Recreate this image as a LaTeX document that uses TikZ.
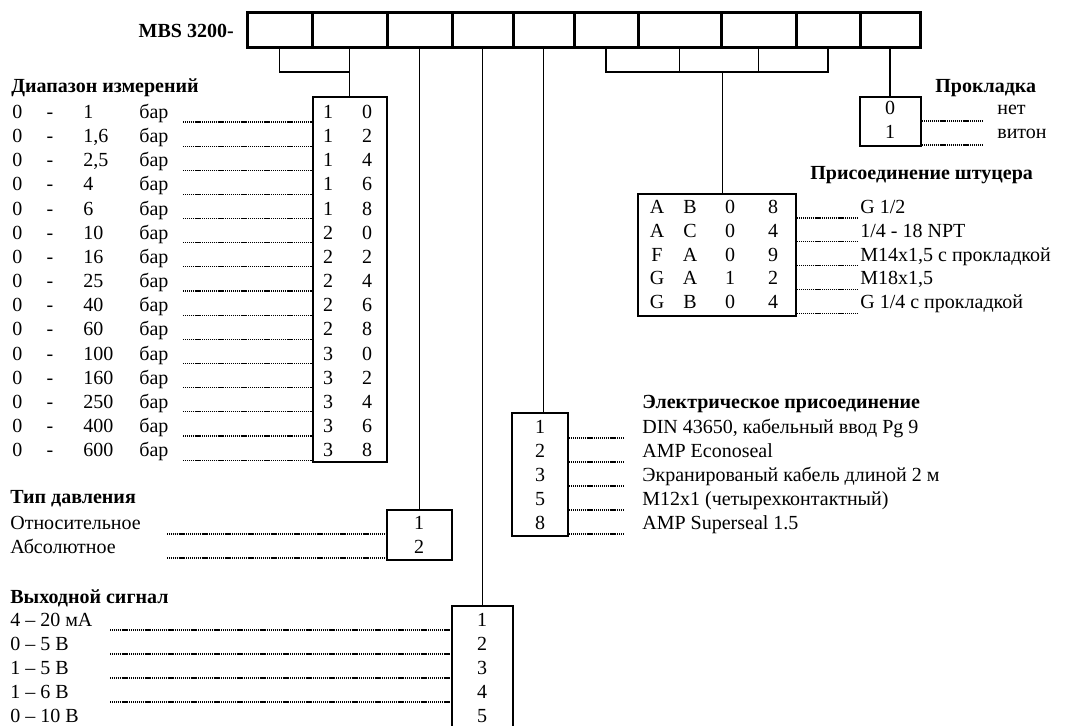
\documentclass[tikz,border=0pt]{standalone}
\usepackage{fontspec}
\setmainfont{Liberation Serif}
\usetikzlibrary{fit}
\tikzset{
  % тексты
  txt/.style={inner sep=0pt,text height=7.8pt,text depth=0pt,
              font=\fontsize{12}{14}\selectfont},
  ttl/.style={txt,font=\fontsize{12}{14}\selectfont\bfseries},
  % рамки и линии
  cell/.style={draw,line width=1.8pt,inner sep=0pt},
  codebox/.style={draw,line width=1.5pt,inner sep=0pt},
  conn/.style={draw,line width=1.1pt},
  lead/.style={draw,line width=0.7pt,dash pattern=on 0.7pt off 0.45pt},
}

\begin{document}
\begin{tikzpicture}[x=0.6pt,y=-0.6pt]
  \path[use as bounding box] (0,0) rectangle (1068,725);
  \clip (0,0) rectangle (1068,725);
  % код заказа
  \node[ttl,anchor=east] (mbs) at (234,31) {MBS 3200-};
  \node[cell,fit={(247,12) (312,47)}] (c1) {};
  \node[cell,fit={(312,12) (387,47)}] (c2) {};
  \node[cell,fit={(387,12) (452,47)}] (c3) {};
  \node[cell,fit={(452,12) (513,47)}] (c4) {};
  \node[cell,fit={(513,12) (574,47)}] (c5) {};
  \node[cell,fit={(574,12) (638,47)}] (c6) {};
  \node[cell,fit={(638,12) (721,47)}] (c7) {};
  \node[cell,fit={(721,12) (796,47)}] (c8) {};
  \node[cell,fit={(796,12) (860,47)}] (c9) {};
  \node[cell,fit={(860,12) (920,47)}] (c10) {};
  \coordinate (kb) at (0,72);

  % диапазон
  \node[ttl,anchor=west] (rtt) at (11,86) {Диапазон измерений};
  \node[codebox,fit={(313,97) (387,462)}] (rng) {};
  \foreach \v/\a/\b [count=\i from 0] in {1/1/0,{1,6}/1/2,{2,5}/1/4,4/1/6,6/1/8,
      10/2/0,16/2/2,25/2/4,40/2/6,60/2/8,100/3/0,160/3/2,250/3/4,400/3/6,600/3/8}{
    \pgfmathsetmacro\ry{112+24.15*\i}
    \node[txt,anchor=west] (rz\i) at (12,\ry) {0};
    \node[txt] (rd\i) at (50,\ry) {-};
    \node[txt,anchor=west] (rv\i) at (83,\ry) {\v};
    \node[txt,anchor=west] (ru\i) at (139,\ry) {бар};
    \node[txt] (ra\i) at (328,\ry) {\a};
    \node[txt] (rb\i) at (367,\ry) {\b};
    \coordinate (rl\i) at (183,{\ry+10});
    \draw[lead] (rl\i) -- (rl\i -| rng.west);
  }

  % тип давления
  \node[ttl,anchor=west] (ptt) at (10,497) {Тип давления};
  \node[codebox,fit={(387,510) (452,560)}] (prs) {};
  \node[txt,anchor=west] (p1) at (10,523) {Относительное};
  \node[txt,anchor=west] (p2) at (10,547) {Абсолютное};
  \node[txt] (pd1) at (419,523) {1};
  \node[txt] (pd2) at (419,547) {2};
  \coordinate (pl1) at (167,534);
  \coordinate (pl2) at (167,558);
  \draw[lead] (pl1) -- (pl1 -| prs.west);
  \draw[lead] (pl2) -- (pl2 -| prs.west);

  % выходной сигнал
  \node[ttl,anchor=west] (ott) at (10,597) {Выходной сигнал};
  \node[codebox,fit={(452,606) (513,750)}] (out) {};
  \foreach \s [count=\i from 0] in {4 – 20 мА,0 – 5 В,1 – 5 В,1 – 6 В,0 – 10 В}{
    \pgfmathsetmacro\oy{620+24*\i}
    \node[txt,anchor=west] (o\i) at (10,\oy) {\s};
    \pgfmathtruncatemacro\n{\i+1}
    \node[txt] (od\i) at (482,\oy) {\n};
  }
  \foreach \i in {0,...,3}{
    \coordinate (ol\i) at (110,{630+24*\i});
    \draw[lead] (ol\i) -- (ol\i -| out.west);
  }

  % электрическое присоединение
  \node[ttl,anchor=west] (ett) at (642,402) {Электрическое присоединение};
  \node[codebox,fit={(512,413) (568,536)}] (elbox) {};
  \foreach \d/\s [count=\i from 0] in {1/{DIN 43650, кабельный ввод Pg 9},
      2/AMP Econoseal,3/Экранированый кабель длиной 2 м,
      5/M12x1 (четырехконтактный),8/AMP Superseal 1.5}{
    \pgfmathsetmacro\ey{427+24*\i}
    \node[txt] (ed\i) at (540,\ey) {\d};
    \node[txt,anchor=west] (e\i) at (642,\ey) {\s};
    \coordinate (el\i) at (624,{\ey+11});
    \draw[lead] (elbox.east |- el\i) -- (el\i);
  }

  % присоединение штуцера
  \node[ttl,anchor=west] (ftt) at (810,173) {Присоединение штуцера};
  \node[codebox,fit={(638,194) (796,316)}] (fit) {};
  \foreach \p/\q/\r/\t [count=\i from 0] in {A/B/0/8,A/C/0/4,F/A/0/9,G/A/1/2,G/B/0/4}{
    \pgfmathsetmacro\fy{207+23.8*\i}
    \node[txt] (fp\i) at (657,\fy) {\p};
    \node[txt] (fq\i) at (690,\fy) {\q};
    \node[txt] (fr\i) at (730,\fy) {\r};
    \node[txt] (ft\i) at (773,\fy) {\t};
    \coordinate (fl\i) at (857,{\fy+11});
    \draw[lead] (fit.east |- fl\i) -- (fl\i);
  }
  \node[txt,anchor=west] (f0) at (860,207) {G 1/2};
  \node[txt,anchor=west] (f1) at (860,230.8) {1/4 - 18 NPT};
  \node[txt,anchor=west] (f2) at (860,254.6) {M14x1,5 с прокладкой};
  \node[txt,anchor=west] (f3) at (860,278.4) {M18x1,5};
  \node[txt,anchor=west] (f4) at (860,302.2) {G 1/4 с прокладкой};

  % прокладка
  \node[ttl,anchor=west] (gtt) at (935,86) {Прокладка};
  \node[codebox,fit={(860,97) (921,146)}] (gsk) {};
  \node[txt] (gd0) at (890,108) {0};
  \node[txt] (gd1) at (890,132) {1};
  \node[txt,anchor=west] (g0) at (997,108) {нет};
  \node[txt,anchor=west] (g1) at (997,132) {витон};
  \coordinate (gl0) at (982,121);
  \coordinate (gl1) at (982,145);
  \draw[lead] (gsk.east |- gl0) -- (gl0);
  \draw[lead] (gsk.east |- gl1) -- (gl1);

  % связи
  \draw[conn] (c1.south) |- (c2.south |- kb);
  \draw[conn] (c2.south) -- (c2.south |- rng.north);
  \draw[conn] (c3.south) -- (c3.south |- prs.north);
  \draw[conn] (c4.south) -- (c4.south |- out.north);
  \draw[conn] (c5.south) -- (c5.south |- elbox.north);
  \draw[conn] (c6.south) |- (c9.south |- kb) -- (c9.south);
  \draw[conn] (c7.south) -- (c7.south |- kb);
  \draw[conn] (c8.south) -- (c8.south |- kb);
  \draw[conn] (c7.east |- kb) -- (c7.east |- fit.north);
  \draw[conn] (c10.south) -- (c10.south |- gsk.north);
\end{tikzpicture}
\end{document}
